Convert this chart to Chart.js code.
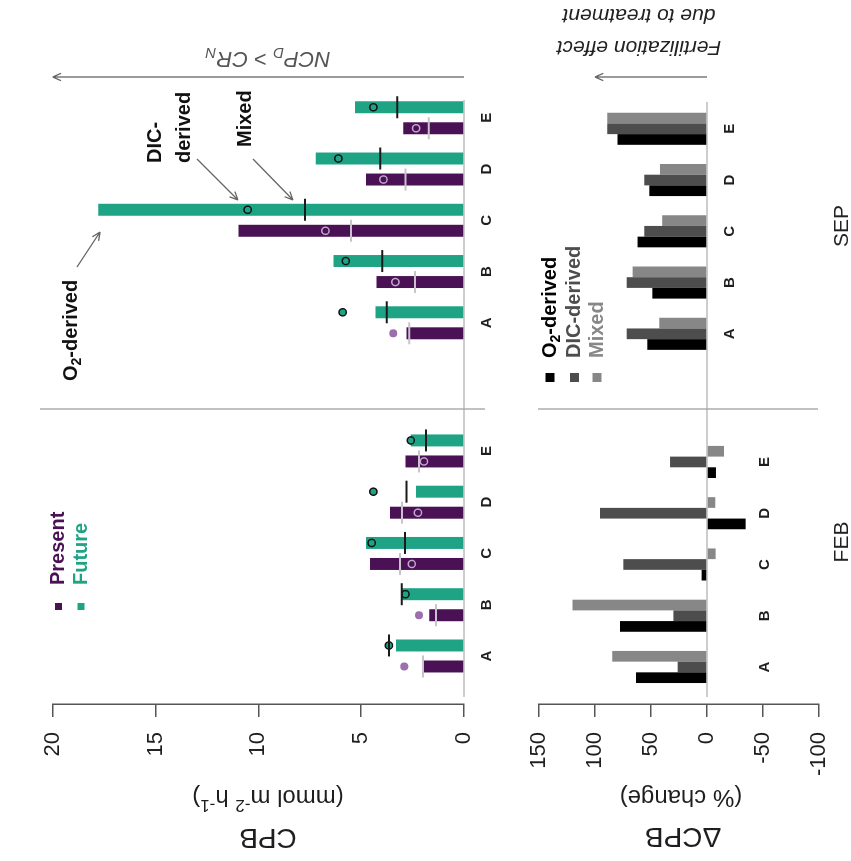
<!DOCTYPE html>
<html><head><meta charset="utf-8">
<script src="https://cdn.jsdelivr.net/npm/chart.js@4.4.1/dist/chart.umd.min.js"></script>
<style>
html,body{margin:0;padding:0;background:#fff;width:851px;height:861px;overflow:hidden;}
#wrap{position:absolute;left:0;top:0;width:861px;height:851px;transform-origin:0 0;transform:translate(0px,861px) rotate(-90deg);background:#fff;}
#c1{position:absolute;left:0;top:0;}
#c2{position:absolute;left:0;top:505px;}
</style></head><body>
<div id="wrap"><canvas id="c1" width="861" height="520"></canvas><canvas id="c2" width="861" height="346"></canvas></div>
<script>
// ---------------- data ----------------
const categories = ['A', 'B', 'C', 'D', 'E'];
const months = ['FEB', 'SEP'];
const seriesNames = ['Present', 'Future'];
const methodNames = ['O2-derived', 'DIC-derived', 'Mixed'];

// CPB (mmol m-2 h-1): bars = O2-derived, circles = DIC-derived, ticks = Mixed
const presentO2Feb  = [1.98, 1.69, 4.57, 3.60, 2.85];
const futureO2Feb   = [3.31, 3.03, 4.77, 2.33, 2.59];
const presentDicFeb = [2.90, 2.19, 2.54, 2.24, 1.95];
const futureDicFeb  = [3.65, 2.85, 4.49, 4.41, 2.59];
const presentMixFeb = [1.99, 1.36, 3.11, 3.01, 2.19];
const futureMixFeb  = [3.65, 3.03, 2.87, 2.79, 1.85];

const presentO2Sep  = [2.79, 4.25, 10.97, 4.77, 2.95];
const futureO2Sep   = [4.30, 6.35, 17.78, 7.21, 5.30];
const presentDicSep = [3.44, 3.34, 6.74, 3.92, 2.33];
const futureDicSep  = [5.90, 5.75, 10.52, 6.11, 4.41];
const presentMixSep = [2.66, 2.38, 5.49, 2.85, 1.72];
const futureMixSep  = [3.76, 3.97, 7.73, 4.07, 3.24];

// Delta CPB (% change)
const dO2Feb  = [63.4, 77.7, 4.8, -34.5, -8.0];
const dDicFeb = [26.2, 30.0, 74.7, 95.5, 33.0];
const dMixFeb = [84.5, 120.0, -7.7, -7.4, -15.2];
const dO2Sep  = [53.3, 48.8, 62.0, 51.5, 80.0];
const dDicSep = [71.7, 71.7, 56.0, 56.0, 89.0];
const dMixSep = [42.6, 66.4, 40.0, 42.0, 89.0];

// tick values
const cpbTicks  = [0, 5, 10, 15, 20];
const dcpbTicks = [-100, -50, 0, 50, 100, 150];

// ---------------- layout helpers ----------------
const FAM = "'Liberation Sans', Arial, Helvetica, sans-serif";
Chart.defaults.font.family = FAM;
const COL = {
  present: '#4a1254', future: '#1fa385',
  presentRing: '#c3a8cf', presentDot: '#9c70ad', presentMix: '#c9c3cc',
  futureRing: '#111111', futureMix: '#1a1a1a',
  o2: '#000000', dic: '#4d4d4d', mix: '#878787',
  axis: '#555555', text: '#1e1e1e', zero: '#bdbdbd', sep: '#a0a0a0', arrow: '#666666'
};
const C2TOP = 505;               // top of the second canvas inside the figure
const V2 = v => v - C2TOP;       // figure -> canvas-2 coordinate
const monthGap = 6.5;
const posFeb = categories.map((c, i) => i + 1);
const posSep = categories.map((c, i) => i + 1 + monthGap);
function pts(pos, vals, dx) { return vals.map((v, i) => ({x: pos[i] + dx, y: v})); }
function both(feb, sep, dx) { return pts(posFeb, feb, dx).concat(pts(posSep, sep, dx)); }

function drawRich(ctx, parts, x, y, opts) {
  ctx.save();
  ctx.translate(x, y);
  if (opts.rot) ctx.rotate(opts.rot);
  ctx.fillStyle = opts.color || COL.text;
  ctx.textBaseline = 'middle';
  ctx.textAlign = 'left';
  const fonts = parts.map(p => `${p.style || 'normal'} ${p.weight || 'normal'} ${p.size}px ${FAM}`);
  const widths = [];
  let total = 0;
  parts.forEach((p, i) => { ctx.font = fonts[i]; const w = ctx.measureText(p.t).width; widths.push(w); total += w; });
  let cx = opts.align === 'center' ? -total / 2 : (opts.align === 'right' ? -total : 0);
  parts.forEach((p, i) => { ctx.font = fonts[i]; ctx.fillText(p.t, cx, p.dy || 0); cx += widths[i]; });
  ctx.restore();
}
function arrow(ctx, x1, y1, x2, y2, color) {
  const head = 9;
  ctx.save();
  ctx.strokeStyle = color; ctx.lineWidth = 1.3;
  ctx.beginPath(); ctx.moveTo(x1, y1); ctx.lineTo(x2, y2);
  const a = Math.atan2(y2 - y1, x2 - x1);
  ctx.moveTo(x2, y2); ctx.lineTo(x2 - head * Math.cos(a - 0.42), y2 - head * Math.sin(a - 0.42));
  ctx.moveTo(x2, y2); ctx.lineTo(x2 - head * Math.cos(a + 0.42), y2 - head * Math.sin(a + 0.42));
  ctx.stroke(); ctx.restore();
}
function o2Parts(size, weight) {
  return [{t: 'O', size, weight}, {t: '2', size: Math.round(size * 0.7), weight, dy: size * 0.3}, {t: '-derived', size, weight}];
}
const UP = -Math.PI / 2;

function valueAxis(ticksArr, width) {
  return {
    type: 'linear', position: 'left',
    min: ticksArr[0], max: ticksArr[ticksArr.length - 1],
    ticks: {stepSize: ticksArr[1] - ticksArr[0], padding: 15, color: COL.text, font: {size: 22}},
    grid: {display: true, drawOnChartArea: false, drawTicks: true, tickLength: 13, color: COL.axis, lineWidth: 1.5},
    border: {display: true, color: COL.axis, width: 1.5},
    afterFit: s => { s.width = width; }
  };
}
function catAxis(min, max, positions, padding, extra) {
  return Object.assign({
    type: 'linear', position: {y: 0}, min, max, offset: false,
    afterBuildTicks: s => { s.ticks = positions.map(v => ({value: v})); },
    ticks: {autoSkip: false, maxRotation: 0, minRotation: 0, padding, color: COL.text,
            font: {size: 15, weight: 'bold'}, callback: (v, i) => categories[i % categories.length]},
    grid: {display: false, drawTicks: false},
    border: {display: false}
  }, extra || {});
}

// ---------------- chart 1: CPB ----------------
const catPct1 = 0.82, barPct1 = 0.57;
const off1 = catPct1 / 4;
const presentDicAll = presentDicFeb.concat(presentDicSep);
const presentO2All = presentO2Feb.concat(presentO2Sep);
const pInside = presentDicAll.map((v, i) => v <= presentO2All[i]);

const decor1 = {
  id: 'decor1',
  beforeDatasetsDraw(chart) {
    const {ctx, scales: {y}} = chart;
    const y0 = y.getPixelForValue(0);
    ctx.save();
    ctx.strokeStyle = COL.zero; ctx.lineWidth = 1.5;
    ctx.beginPath(); ctx.moveTo(164, y0); ctx.lineTo(761, y0); ctx.stroke();
    ctx.strokeStyle = COL.sep; ctx.lineWidth = 1.3;
    ctx.beginPath(); ctx.moveTo(452, 40); ctx.lineTo(452, 485); ctx.stroke();
    ctx.restore();
  },
  afterDraw(chart) {
    const {ctx, scales: {y}} = chart;
    drawRich(ctx, [{t: 'CPB', size: 28}], 24, 268, {rot: UP, align: 'center'});
    drawRich(ctx, [{t: '(mmol m', size: 24}, {t: '-2', size: 17, dy: -8}, {t: ' h', size: 24}, {t: '-1', size: 17, dy: -8}, {t: ')', size: 24}],
      64, 268, {rot: UP, align: 'center'});
    const leg = [[seriesNames[0], COL.present, 58.5], [seriesNames[1], COL.future, 81]];
    leg.forEach(([name, col, v]) => {
      ctx.fillStyle = col; ctx.fillRect(251, v - 3.5, 7, 7);
      drawRich(ctx, [{t: name, size: 20, weight: 'bold'}], 276, v, {color: col});
    });
    arrow(ctx, 784, y.getPixelForValue(0), 784, y.getPixelForValue(20), COL.arrow);
    drawRich(ctx, [{t: 'NCP', size: 22, style: 'italic'}, {t: 'D', size: 15, style: 'italic', dy: 6},
                   {t: ' > CR', size: 22, style: 'italic'}, {t: 'N', size: 15, style: 'italic', dy: 6}],
      803, 268, {rot: UP, align: 'center', color: '#555'});
    drawRich(ctx, o2Parts(20, 'bold'), 480, 71, {color: '#111'});
    arrow(ctx, 594, 77, 629, 100, COL.arrow);
    drawRich(ctx, [{t: 'DIC-', size: 20, weight: 'bold'}], 698, 155, {color: '#111'});
    drawRich(ctx, [{t: 'derived', size: 20, weight: 'bold'}], 698, 184, {color: '#111'});
    arrow(ctx, 702, 197, 661, 238, COL.arrow);
    drawRich(ctx, [{t: 'Mixed', size: 20, weight: 'bold'}], 714, 245, {color: '#111'});
    arrow(ctx, 702, 253, 661, 293, COL.arrow);
  }
};

new Chart(document.getElementById('c1'), {
  type: 'bar',
  data: {
    datasets: [
      {type: 'scatter', label: 'Present Mixed', order: 0, data: both(presentMixFeb, presentMixSep, -off1),
       pointStyle: 'line', pointRadius: 11, pointBorderWidth: 2, pointBorderColor: COL.presentMix},
      {type: 'scatter', label: 'Future Mixed', order: 0, data: both(futureMixFeb, futureMixSep, off1),
       pointStyle: 'line', pointRadius: 11, pointBorderWidth: 2, pointBorderColor: COL.futureMix},
      {type: 'scatter', label: 'Present DIC', order: 1, data: both(presentDicFeb, presentDicSep, -off1),
       pointStyle: 'circle', pointRadius: pInside.map(b => b ? 3.6 : 3.3), pointBorderWidth: 1.5,
       pointBackgroundColor: pInside.map(b => b ? COL.present : COL.presentDot),
       pointBorderColor: pInside.map(b => b ? COL.presentRing : COL.presentDot)},
      {type: 'scatter', label: 'Future DIC', order: 1, data: both(futureDicFeb, futureDicSep, off1),
       pointStyle: 'circle', pointRadius: 3.6, pointBorderWidth: 1.5,
       pointBackgroundColor: COL.future, pointBorderColor: COL.futureRing},
      {type: 'bar', label: seriesNames[0], order: 2, data: both(presentO2Feb, presentO2Sep, 0),
       backgroundColor: COL.present, categoryPercentage: catPct1, barPercentage: barPct1},
      {type: 'bar', label: seriesNames[1], order: 2, data: both(futureO2Feb, futureO2Sep, 0),
       backgroundColor: COL.future, categoryPercentage: catPct1, barPercentage: barPct1}
    ]
  },
  options: {
    responsive: false, animation: false, events: [],
    layout: {padding: {left: 0, top: 52.7, right: 87, bottom: 56}},
    plugins: {legend: {display: false}, tooltip: {enabled: false}},
    scales: {
      x: catAxis(0.063, 12.1, posFeb.concat(posSep), 14),
      y: valueAxis(cpbTicks, 157)
    }
  },
  plugins: [decor1]
});

// ---------------- chart 2: Delta CPB ----------------
const catPct2 = 0.626;
const decor2 = {
  id: 'decor2',
  beforeDatasetsDraw(chart) {
    const {ctx, scales: {y}} = chart;
    const y0 = y.getPixelForValue(0);
    ctx.save();
    ctx.strokeStyle = COL.zero; ctx.lineWidth = 1.5;
    ctx.beginPath(); ctx.moveTo(164, y0); ctx.lineTo(759, y0); ctx.stroke();
    ctx.strokeStyle = COL.sep; ctx.lineWidth = 1.3;
    ctx.beginPath(); ctx.moveTo(452, V2(538)); ctx.lineTo(452, V2(818)); ctx.stroke();
    ctx.restore();
  },
  afterDraw(chart) {
    const {ctx, scales: {y}} = chart;
    drawRich(ctx, [{t: '\u0394CPB', size: 28}], 25, V2(683), {rot: UP, align: 'center'});
    drawRich(ctx, [{t: '(% change)', size: 24}], 64, V2(681), {rot: UP, align: 'center'});
    const leg = [[o2Parts(20, 'bold'), COL.o2, V2(550)], [[{t: methodNames[1], size: 20, weight: 'bold'}], COL.dic, V2(574.5)], [[{t: methodNames[2], size: 20, weight: 'bold'}], COL.mix, V2(597)]];
    leg.forEach(([parts, col, v]) => {
      ctx.fillStyle = col; ctx.fillRect(479, v - 4.5, 9, 9);
      drawRich(ctx, parts, 503, v, {color: col});
    });
    arrow(ctx, 784, y.getPixelForValue(0), 784, y.getPixelForValue(100), COL.arrow);
    drawRich(ctx, [{t: 'Fertilization effect', size: 21, style: 'italic'}], 814, V2(639), {rot: UP, align: 'center', color: '#222'});
    drawRich(ctx, [{t: 'due to treatment', size: 21, style: 'italic'}], 846, V2(639), {rot: UP, align: 'center', color: '#222'});
    drawRich(ctx, [{t: months[0], size: 21}], 319, V2(842), {align: 'center', color: '#222'});
    drawRich(ctx, [{t: months[1], size: 21}], 635, V2(842), {align: 'center', color: '#222'});
  }
};

new Chart(document.getElementById('c2'), {
  type: 'bar',
  data: {
    datasets: [
      {label: methodNames[0], data: both(dO2Feb, dO2Sep, 0), backgroundColor: COL.o2, categoryPercentage: catPct2, barPercentage: 1},
      {label: methodNames[1], data: both(dDicFeb, dDicSep, 0), backgroundColor: COL.dic, categoryPercentage: catPct2, barPercentage: 1},
      {label: methodNames[2], data: both(dMixFeb, dMixSep, 0), backgroundColor: COL.mix, categoryPercentage: catPct2, barPercentage: 1}
    ]
  },
  options: {
    responsive: false, animation: false, events: [],
    layout: {padding: {left: 0, top: V2(539), right: 87, bottom: 851 - 819}},
    plugins: {legend: {display: false}, tooltip: {enabled: false}},
    scales: {
      x: catAxis(0.278, 12.315, posFeb, 49),
      x2: catAxis(0.278, 12.315, posSep, 14, {axis: 'x'}),
      y: valueAxis(dcpbTicks, 157)
    }
  },
  plugins: [decor2]
});
</script>
</body></html>
